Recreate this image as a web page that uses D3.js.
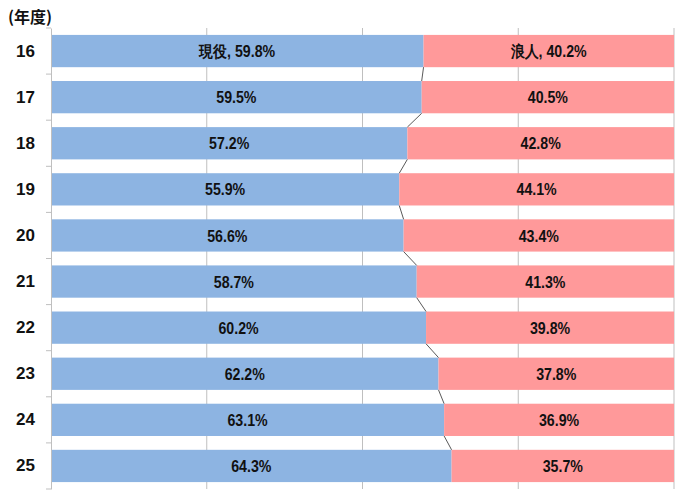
<!DOCTYPE html>
<html>
<head>
<meta charset="utf-8">
<script src="https://cdn.jsdelivr.net/npm/d3@7"></script>
<style>
  body { margin: 0; background: #fff; }
  svg { font-family: "Liberation Sans", Arial, sans-serif; }
</style>
</head>
<body>
<svg id="chart" width="690" height="499"></svg>
<script>
const years = ["16", "17", "18", "19", "20", "21", "22", "23", "24", "25"];
const genekiValues = [59.8, 59.5, 57.2, 55.9, 56.6, 58.7, 60.2, 62.2, 63.1, 64.3];
const roninValues = [40.2, 40.5, 42.8, 44.1, 43.4, 41.3, 39.8, 37.8, 36.9, 35.7];
const seriesNames = ["現役", "浪人"];
const colors = ["#8db4e2", "#ff999a"];

const svg = d3.select("#chart"),
      margin = { top: 28, right: 16, bottom: 10, left: 51 },
      width = 690 - margin.left - margin.right,
      height = 489 - margin.top;

const g = svg.append("g")
  .attr("transform", `translate(${margin.left},${margin.top})`);

const x = d3.scaleLinear().domain([0, 100]).range([0, width]);
const y = d3.scaleBand().domain(years).range([0, height]).paddingInner(0.3).paddingOuter(0.15);

// gridlines
g.selectAll(".grid")
  .data([25, 50, 75, 100])
  .enter().append("line")
  .attr("x1", d => x(d)).attr("x2", d => x(d))
  .attr("y1", 0).attr("y2", height)
  .attr("stroke", "#bfbfbf").attr("stroke-width", 1);

const rows = years.map((yr, i) => ({ yr, vals: [genekiValues[i], roninValues[i]] }));

// bars + labels
rows.forEach((r, i) => {
  let start = 0;
  r.vals.forEach((v, k) => {
    g.append("rect")
      .attr("x", x(start))
      .attr("y", y(r.yr))
      .attr("width", x(start + v) - x(start))
      .attr("height", y.bandwidth())
      .attr("fill", colors[k]);
    const cx = x(start + v / 2), cy = y(r.yr) + y.bandwidth() / 2;
    g.append("text")
      .attr("transform", `translate(${cx},${cy}) scale(0.86,1)`)
      .attr("dy", "0.37em")
      .attr("text-anchor", "middle")
      .attr("font-size", 16.5)
      .attr("font-weight", "bold")
      .attr("fill", "#111")
      .text(i === 0 ? `${seriesNames[k]}, ${v.toFixed(1)}%` : `${v.toFixed(1)}%`);
    start += v;
  });
});

// series lines
for (let i = 0; i < rows.length - 1; i++) {
  g.append("line")
    .attr("x1", x(rows[i].vals[0]))
    .attr("y1", y(rows[i].yr) + y.bandwidth())
    .attr("x2", x(rows[i + 1].vals[0]))
    .attr("y2", y(rows[i + 1].yr))
    .attr("stroke", "#595959").attr("stroke-width", 1);
}

// y axis
const yAxis = g.append("g")
  .call(d3.axisLeft(y).tickSize(0).tickPadding(16));
yAxis.select(".domain").attr("stroke", "#bfbfbf");
yAxis.selectAll("text")
  .attr("font-size", 17).attr("font-weight", "bold").attr("fill", "#111")
  .attr("font-family", "Liberation Sans, Arial, sans-serif");

// category boundary ticks
g.selectAll(".btick")
  .data(d3.range(years.length + 1))
  .enter().append("line")
  .attr("x1", -5).attr("x2", 0)
  .attr("y1", d => d * y.step()).attr("y2", d => d * y.step())
  .attr("stroke", "#bfbfbf");

svg.append("text")
  .attr("x", 8).attr("y", 23)
  .attr("font-size", 16).attr("font-weight", "bold").attr("fill", "#111")
  .attr("font-family", "Noto Sans CJK JP, sans-serif")
  .text("(年度)");
</script>
</body>
</html>
